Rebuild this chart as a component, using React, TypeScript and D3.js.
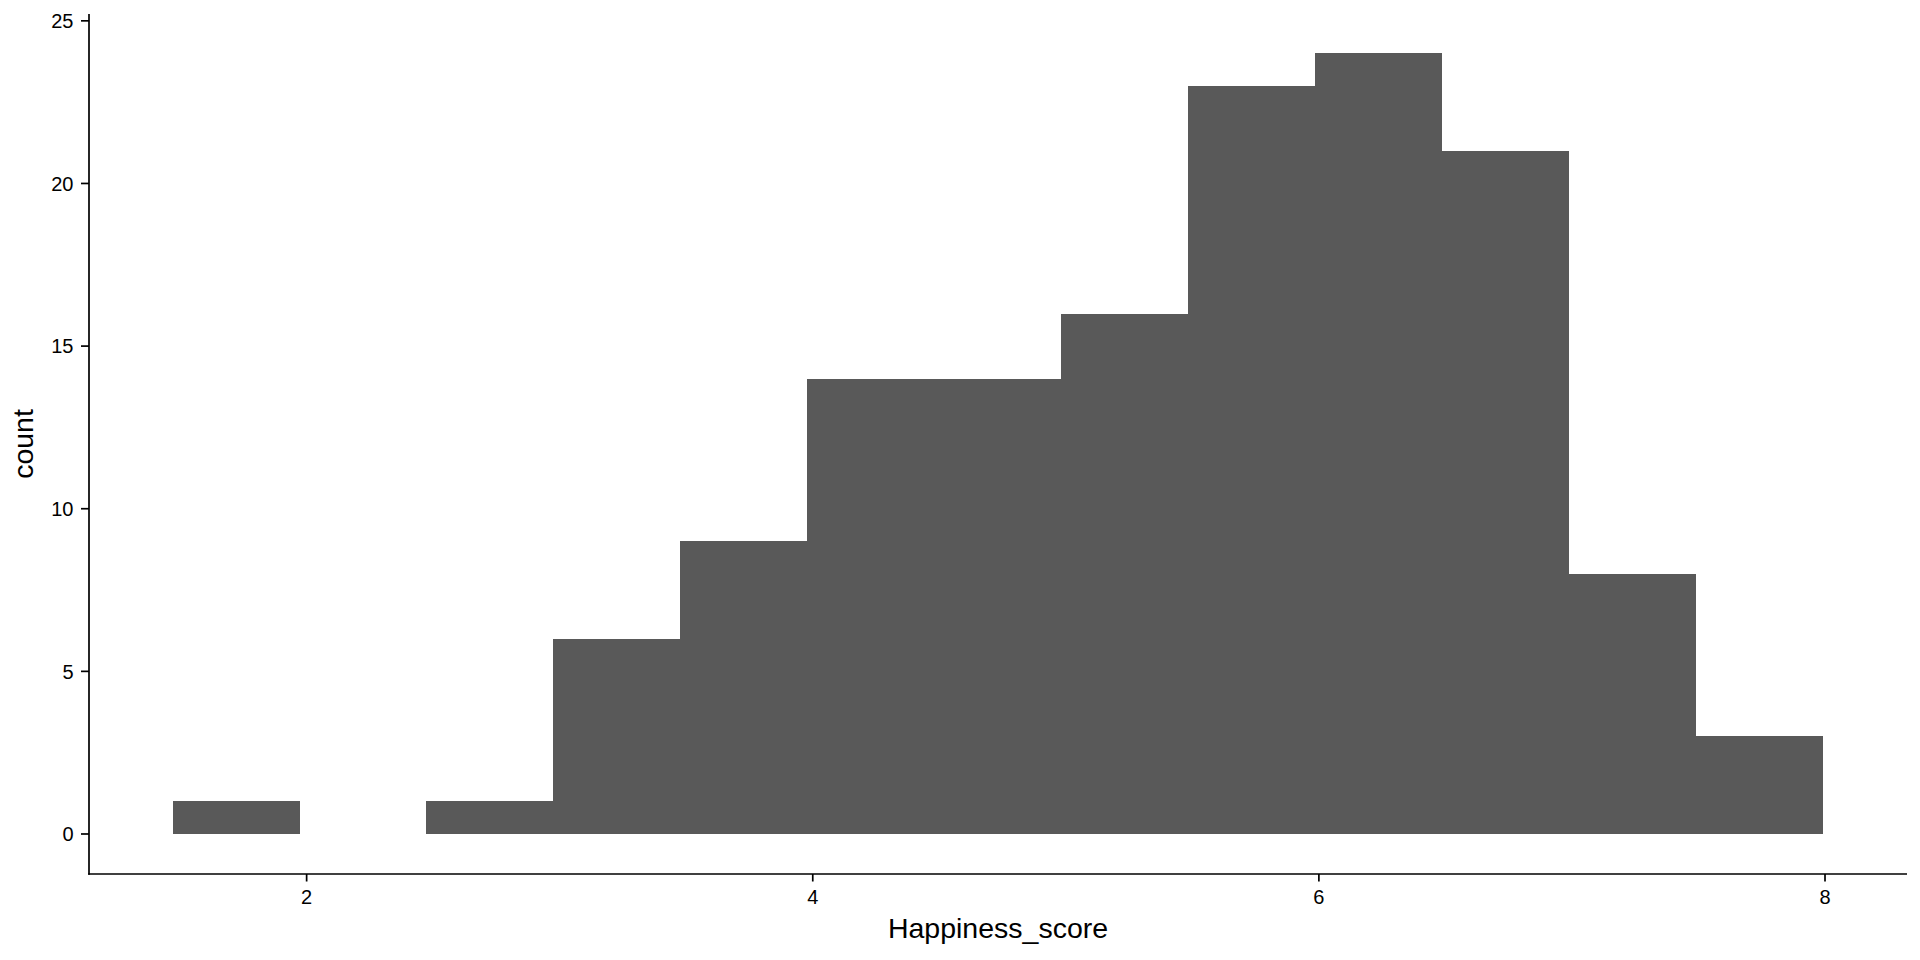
import React from "react";
import * as d3 from "d3";

const binEdges = [1.47, 1.972, 2.473, 2.975, 3.476, 3.978, 4.48, 4.981, 5.483, 5.984, 6.486, 6.988, 7.489, 7.991];
const counts = [1, 0, 1, 6, 9, 14, 14, 16, 23, 24, 21, 8, 3];
const xTicks = [2, 4, 6, 8];
const yTicks = [0, 5, 10, 15, 20, 25];
const xLabel = "Happiness_score";
const yLabel = "count";

const W = 1920;
const H = 960;
const left = 89;
const right = 1907;
const top = 14;
const bottom = 874;

export default function App() {
  const x = d3.scaleLinear().domain([1.14, 8.324]).range([left, right]);
  const y = d3.scaleLinear().domain([-1.23, 25.21]).range([bottom, top]);
  const font = "'Liberation Sans', Arial, Helvetica, sans-serif";
  const bars = counts.map((c, i) => ({ x0: binEdges[i], x1: binEdges[i + 1], c }));
  const lw = 1.7;
  return (
    <svg
      width={W}
      height={H}
      style={{ position: "fixed", top: 0, left: 0, display: "block", background: "#fff" }}
    >
      <g shapeRendering="crispEdges">
        {bars
          .filter((b) => b.c > 0)
          .map((b, i) => (
            <rect
              key={i}
              x={Math.round(x(b.x0))}
              y={Math.round(y(b.c))}
              width={Math.round(x(b.x1)) - Math.round(x(b.x0))}
              height={Math.round(y(0)) - Math.round(y(b.c))}
              fill="#595959"
            />
          ))}
      </g>
      <line x1={left} x2={left} y1={top} y2={bottom + lw / 2} stroke="#000" strokeWidth={lw} />
      <line x1={left - lw / 2} x2={right} y1={bottom} y2={bottom} stroke="#000" strokeWidth={lw} />
      {yTicks.map((t) => (
        <g key={t}>
          <line x1={left - 8} x2={left} y1={y(t)} y2={y(t)} stroke="#000" strokeWidth={lw} />
          <text
            x={left - 15.5}
            y={y(t)}
            dy="0.36em"
            textAnchor="end"
            fontFamily={font}
            fontSize={20}
            fill="#000"
          >
            {t}
          </text>
        </g>
      ))}
      {xTicks.map((t) => (
        <g key={t}>
          <line x1={x(t)} x2={x(t)} y1={bottom} y2={bottom + 7.5} stroke="#000" strokeWidth={lw} />
          <text x={x(t)} y={904} textAnchor="middle" fontFamily={font} fontSize={20} fill="#000">
            {t}
          </text>
        </g>
      ))}
      <text
        x={(left + right) / 2}
        y={938}
        textAnchor="middle"
        fontFamily={font}
        fontSize={28.5}
        fill="#000"
      >
        {xLabel}
      </text>
      <text
        transform={`translate(33, ${(top + bottom) / 2}) rotate(-90)`}
        textAnchor="middle"
        fontFamily={font}
        fontSize={28.5}
        fill="#000"
      >
        {yLabel}
      </text>
    </svg>
  );
}
